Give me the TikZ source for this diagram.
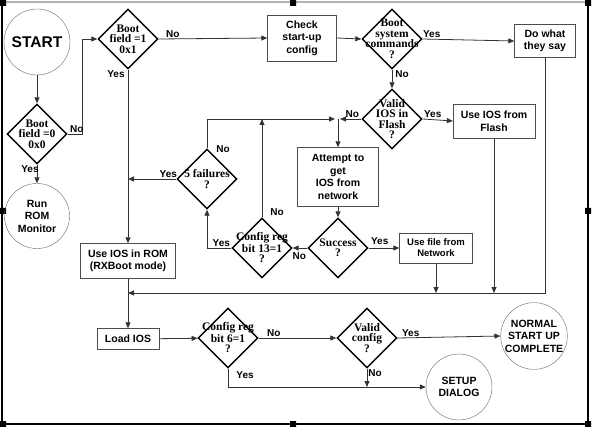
\documentclass[tikz,border=0pt]{standalone}
\usepackage{fontspec}
\setmainfont{Liberation Sans}
\newfontfamily\dfont{Liberation Serif}
\usetikzlibrary{shapes.geometric,arrows.meta}
\begin{document}
\begin{tikzpicture}[x=1pt, y=-1pt,
    box/.style={draw=black!70, rectangle, align=center, inner sep=2pt,
        font=\bfseries\fontsize{10.5}{12.5}\selectfont},
    test/.style={diamond, draw=black, line width=1.4pt, minimum size=60pt, inner sep=0pt},
    dtext/.style={align=center, inner sep=0pt, font=\dfont\bfseries\fontsize{11.5}{10.5}\selectfont},
    term/.style={circle, draw=black!60, minimum size=66pt, inner sep=0pt, align=center,
        font=\bfseries\fontsize{10.5}{12.5}\selectfont},
    flow/.style={draw=black!80, line width=0.8pt, -{Triangle[length=6pt, width=5pt]}},
    tag/.style={font=\bfseries\fontsize{10}{11}\selectfont, inner sep=1pt}]
    \useasboundingbox (0,0) rectangle (593,427);
    \draw[gray!60, line width=2pt]
        (2,2) -- (588,2);
    \draw[line width=1.5pt]
        (2,3) -- (2,424) -- (588,424) -- (588,3);
    \fill
        (0,0) rectangle +(6,6)
        (290,0) rectangle +(6,6)
        (585,0) rectangle +(6,6)
        (0,208) rectangle +(6,6)
        (585,208) rectangle +(6,6)
        (0,421) rectangle +(6,6)
        (290,421) rectangle +(6,6)
        (585,421) rectangle +(6,6);
    \node[term, font=\bfseries\fontsize{15.5}{18}\selectfont] (start) at (37,42) {START};
    \node[test, label={[dtext]center:Boot\\field =0\\0x0}] (bf0) at (37,134) {};
    \node[term, minimum size=65pt] (rom) at (37,216) {Run\\ROM\\Monitor};
    \node[test, label={[dtext]center:Boot\\field =1\\0x1}] (bf1) at (128,39) {};
    \node[box, minimum width=69pt, minimum height=46pt] (chk) at (302,38) {Check\\start-up\\config};
    \node[test, label={[dtext]center:Boot\\system\\commands\\?}] (bsc) at (392,39) {};
    \node[box, minimum width=61pt, minimum height=33pt] (what) at (545,41) {Do what\\they say};
    \node[test, label={[dtext]center:Valid\\IOS in\\Flash\\?}] (vif) at (392,119) {};
    \node[box, minimum width=82pt, minimum height=34pt] (flash) at (494,121) {Use IOS from\\Flash};
    \node[box, minimum width=81pt, minimum height=59pt] (att) at (338,177) {Attempt to\\get\\IOS from\\network};
    \node[test, label={[dtext]center:Success\\?}] (suc) at (338,248) {};
    \node[box, minimum width=73pt, minimum height=30pt, font=\bfseries\fontsize{9.5}{11}\selectfont]
        (net) at (436,248) {Use file from\\Network};
    \node[test, label={[dtext]center:Config reg\\bit 13=1\\?}] (c13) at (262,248) {};
    \node[test, label={[dtext]center:5 failures\\?}] (f5) at (207,179) {};
    \node[box, minimum width=95pt, minimum height=35pt] (ios) at (128,261) {Use IOS in ROM\\(RXBoot mode)};
    \node[box, minimum width=62pt, minimum height=21pt] (load) at (128,339) {Load IOS};
    \node[test, label={[dtext]center:Config reg\\bit 6=1\\?}] (c6) at (228,338) {};
    \node[test, label={[dtext]center:Valid\\config\\?}] (vc) at (367,338) {};
    \node[term] (norm) at (534,336) {NORMAL\\START UP\\COMPLETE};
    \node[term] (setup) at (459,387) {SETUP\\DIALOG};
    \coordinate (jn) at (att.north |- vif.west);
    \coordinate (bus) at (128,293);
    \draw[flow] (start) -- (bf0);
    \draw[flow] (bf0.south) node[tag, anchor=north east, xshift=3pt] (y1) {Yes} -- (rom);
    \draw[flow] (bf0.east) node[tag, anchor=south west, xshift=1pt] (n1) {No} -- ++(15,0) |- (bf1.west);
    \draw[flow] (bf1.east) node[tag, anchor=south west, xshift=6pt] (n2) {No} -- (chk.west);
    \draw[flow] (bf1.south) node[tag, anchor=north east, xshift=-2pt] (y2) {Yes} -- (ios.north);
    \draw[flow] (chk.east) -- (bsc.west);
    \draw[flow] (bsc.east) node[tag, anchor=south west, xshift=-1pt] (y3) {Yes} -- (what.west);
    \draw[flow] (bsc.south) node[tag, anchor=north west, xshift=2pt] (n3) {No} -- (vif.north);
    \draw[flow] (vif.east) node[tag, anchor=south west] (y4) {Yes} -- (flash.west);
    \draw[flow] (vif.west) node[tag, anchor=south east, xshift=-1pt] (n4) {No} -- ([xshift=2pt]jn);
    \draw[flow] (jn) -- (att.north);
    \draw[flow] (att) -- (suc);
    \draw[flow] (suc.east) node[tag, anchor=south west, xshift=1pt, yshift=2pt] (y5) {Yes} -- (net.west);
    \draw[flow] (suc.west) node[tag, anchor=north east, yshift=-3pt] (n5) {No} -- (c13.east);
    \draw[flow] (c13.west) node[tag, anchor=south east] (y6) {Yes} -| (f5.south);
    \draw[flow] (c13.north) node[tag, anchor=south west, xshift=7pt] (n6) {No} -- (c13.north |- jn);
    \draw[flow] (f5.west) node[tag, anchor=south east, xshift=2pt] (y7) {Yes} -- (f5.west -| bf1.south);
    \draw[flow] (f5.north) node[tag, anchor=north west, xshift=8pt, yshift=4pt] (n7) {No} |- ([xshift=-3pt]jn);
    \draw[flow] (flash.south) -- (flash.south |- bus);
    \draw[flow] (net.south) -- (net.south |- bus);
    \draw[flow] (what.south) |- (bus);
    \draw[flow] (ios) -- (load);
    \draw[flow] (load) -- (c6);
    \draw[flow] (c6.east) node[tag, anchor=south west, xshift=7pt] (n8) {No} -- (vc.west);
    \draw[flow] (c6.south) node[tag, anchor=north west, xshift=7pt, yshift=-2pt] (y8) {Yes} |- (setup.west);
    \draw[flow] (vc.east) node[tag, anchor=south west, xshift=3pt] (y9) {Yes} -- (norm.west);
    \draw[flow] (vc.south) node[tag, anchor=north west] (n9) {No} -- (vc.south |- setup.west);
\end{tikzpicture}
\end{document}
